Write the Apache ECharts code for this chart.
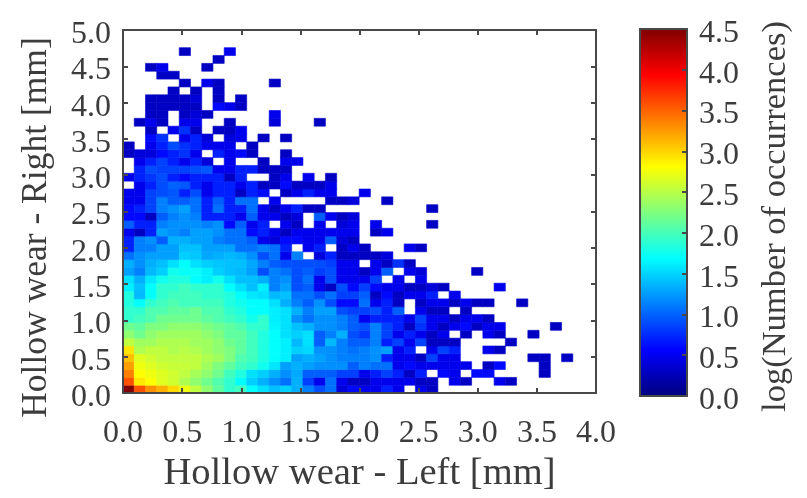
<!DOCTYPE html>
<html>
<head>
<meta charset="utf-8">
<style>html,body{margin:0;padding:0;background:#fff}#c{width:807px;height:498px}</style>
<script src="https://cdn.jsdelivr.net/npm/echarts@6/dist/echarts.min.js"></script>
</head>
<body>
<div id="c"></div>
<script>
const _ = null;
const xBinWidth = 0.0951;
const yBinWidth = 0.1081;
const colorMax = 4.5;
const jetColors = ['#00007f','#0000ff','#007fff','#00ffff','#7fff7f','#ffff00','#ff7f00','#ff0000','#7f0000'];
// log(Number of occurrences); first row is the lowest Right-wear bin, first column the lowest Left-wear bin
const logOccurrences = [
[4.5,3.58,3.3,3.16,2.98,2.74,2.53,2.32,2.11,1.9,1.97,1.69,1.55,1.41,1.48,1.34,1.13,.91,1.06,.4,.6,.48,.48,.7,.48,_,.48,.3],
[3.58,2.91,2.81,2.67,2.6,2.46,2.32,2.18,2.04,1.9,1.69,1.48,1.34,1.2,1.06,1.34,.84,.48,1.06,.48,.3,.3,.48,.48,.48,.48,.3,.3,_,.48,.3,_,_,.48,.3],
[3.37,2.81,2.74,2.67,2.6,2.53,2.42,2.32,2.18,1.97,1.83,1.55,1.48,1.34,1.2,1.31,.98,.98,.98,.84,.84,.48,.7,.85,.7,.3,.7,_,.6,.48,_,.6,.6,_,_,_,_,.3],
[3.23,2.74,2.67,2.6,2.56,2.56,2.53,2.39,2.25,2.11,1.97,1.9,1.76,1.58,1.27,1.34,1.27,1.2,1.2,1.2,.98,1.13,1.06,1.06,.48,.6,.48,.48,.48,.48,.48,_,.3,.6,_,_,_,.3],
[3.09,2.67,2.6,2.53,2.53,2.53,2.53,2.46,2.39,2.25,2.04,1.97,1.83,1.69,1.62,1.27,1.34,1.27,1.2,1.13,1.13,1.13,1.2,.7,.48,.48,.3,.85,.48,.48,_,_,_,_,_,_,.3,.3,_,.3],
[2.93,2.46,2.53,2.53,2.46,2.5,2.46,2.39,2.32,2.25,2.11,1.97,1.83,1.69,1.62,1.48,1.52,1.2,1.2,1.13,1.06,1.13,1.2,1.27,.48,.7,_,.48,.85,.7,_,_,.48,.3],
[2.53,2.39,2.39,2.46,2.46,2.46,2.39,2.39,2.32,2.18,2.11,1.97,1.83,1.69,1.62,1.38,1.55,.98,1.38,1.13,.98,.98,1.13,.7,.85,.48,.85,.3,.3,.3,_,_,_,_,.3],
[2.32,2.18,2.32,2.39,2.39,2.39,2.39,2.32,2.25,2.11,2.11,1.97,1.83,1.69,1.55,1.48,1.55,.98,1.13,1.34,.91,.8,1.13,.85,.48,.7,.48,.3,.48,_,.3,_,.48,.3,_,_,.3],
[2.18,2.11,2.25,2.25,2.32,2.32,2.32,2.25,2.18,2.11,2.04,1.9,1.9,1.65,1.55,1.41,1.34,1.2,1.2,1.13,.98,.91,1.13,.85,.7,.3,.78,.48,.3,.48,.6,.3,.48,.48,_,_,_,_,.3],
[1.9,1.97,2.04,2.18,2.18,2.18,2.18,2.11,2.04,1.97,1.9,1.76,1.9,1.62,1.55,1.2,1.06,1.2,1.2,1.13,.98,.5,.7,.7,.7,.48,.85,.48,.48,.3,.48,.48,.3],
[1.9,1.9,2.04,2.04,2.11,2.11,2.18,2.04,2.04,1.9,1.83,1.69,1.69,1.62,1.55,1.34,1.13,1.27,1.27,.91,.84,.85,.91,.7,.98,_,.48,.3,.3,_,.3],
[1.83,1.69,1.9,1.97,2.04,1.97,1.97,1.97,1.97,1.83,1.76,1.69,1.69,1.55,1.34,1.13,.98,1.2,.91,.6,.6,1.06,.48,.7,.3,_,.3,.48,.48,.3,.48,.3,.3,_,_,.3],
[1.83,1.38,1.69,1.9,1.97,1.97,1.97,1.9,1.9,1.83,1.69,1.58,1.55,1.38,1.41,1.06,1.06,.91,1.06,.84,.84,.98,.3,.6,.3,.48,.48,.7,_,.48],
[1.62,1.41,1.69,1.9,1.9,1.97,1.9,1.9,1.9,1.69,1.55,1.41,1.62,1.13,1.27,.91,.98,.48,.3,.91,.6,.84,.6,.48,.48,.3,.3,.4,.3,_,_,_,_,.48],
[1.55,1.34,1.58,1.76,1.83,1.83,1.69,1.62,1.76,1.55,1.41,1.41,1.34,1.13,1.2,.91,1.06,.48,.91,.48,.48,.48,.84,_,.48,_,.48],
[1.27,1.13,1.38,1.48,1.76,1.72,1.72,1.62,1.48,1.41,1.38,1.27,.91,1.13,1.06,.91,.98,.84,.91,.48,.48,.3,.48,.98,_,.48,.4,_,_,_,_,.3],
[1.34,1.2,1.34,1.41,1.55,1.69,1.55,1.48,1.44,1.41,1.41,1.3,1.13,.98,.91,.91,.91,.91,.84,.48,.48,_,.48,.3,.78,.3],
[1.06,1.2,1.27,1.27,1.27,1.48,1.44,1.3,1.34,1.38,1.34,1.2,.91,1.06,.48,1.13,_,.4,.7,.3,.3,.3,.3,.4],
[.7,1.13,1.13,1.27,1.27,1.41,1.41,1.27,1.27,1.27,1.06,1.06,1.13,1.06,.7,_,.48,.7,_,.3,.48,.3,_,_,_,.48,.3],
[.7,1.13,1.2,.98,1.34,1.34,1.27,1.27,1.13,1.06,1.06,.98,.48,.4,.6,.6,.48,.48,.98,.4,.3],
[.48,.3,.7,1.27,1.2,1.13,1.27,1.27,1.2,1.06,1.06,.6,.7,.48,.3,.48,.48,.48,.48,.48,.48,_,.3,.48],
[.98,.7,.7,1.13,1.2,1.2,1.2,1.13,1.2,.6,.98,.48,.7,_,.48,.3,_,.48,_,.4,.48,_,.48,_,_,_,_,.3],
[.6,.6,.3,.98,1.13,1.2,1.13,.7,.7,.7,.48,.98,.48,.48,.3,.4,_,.98,.48,.3,.4],
[.6,.7,.85,1.13,1.2,1.27,1.06,.7,1.06,.7,.7,1.06,.48,.3,.48,.7,.3,.3,_,_,_,_,_,_,_,_,_,.3],
[.48,.48,.85,1.13,.98,.98,1.06,.7,.98,.7,1.06,1.06,_,.48,_,_,_,_,.3,.3,.4,_,_,.3],
[.48,.48,.85,.9,.95,.7,.9,.48,.7,.7,.3,.7,.6,_,.3,.48,.7,.48,.48,_,_,.48],
[_,.48,.7,.9,1.0,.95,.7,.48,.7,.7,.48,.7,.3,.3,.6,.3,.3,.3,.48],
[.48,.7,.8,.9,.7,.6,.7,.7,.7,.3,.7,_,_,.3,.48,_,.48,_,.3],
[_,.7,.9,.85,.85,.85,.9,.95,.48,.48,.7,.7,.3,.3,.3],
[_,.48,.7,.85,.7,.48,.7,.4,_,.48,_,_,.3,_,.48,.48],
[.3,.4,.4,.6,.7,.78,.48,_,.7,.48,.6,.3,_,_,.3],
[.3,_,.48,.7,.9,.78,.7,.48,.48,.48,_,.3],
[_,_,.6,.78,_,.48,.7,.4,_,.4,.48,_,.3,_,.3],
[_,_,.3,_,.48,.78,.3,_,.3,.3,.48],
[_,.3,.48,.3,_,.48,.48,_,_,.3,_,_,_,.4,_,_,_,.3],
[_,_,.3,.3,_,.3,.4,.3,_,_,_,_,_,.48],
[_,_,.3,.3,.3,.3,.3,_,.6,.48,.3],
[_,_,.3,.3,.3,.3,.4,_,.3,_,.3],
[_,_,_,_,.3,_,.3,_,.3],
[_,_,_,_,_,.3,_,.48,.3,_,_,_,_,.3],
[_,_,_,.3,.3],
[_,_,.3,.48,_,_,_,.3],
[_,_,_,_,_,_,_,_,.3],
[_,_,_,_,_,.3,_,_,_,.48]
];

const cells = [];
logOccurrences.forEach((row, r) => row.forEach((v, c) => {
  if (v !== null) cells.push([c * xBinWidth, r * yBinWidth, v]);
}));

const ink = '#3c3c3c';
const serif = '"Liberation Serif","Times New Roman",serif';
const label = { color: ink, fontFamily: serif, fontSize: 32, formatter: v => Number(v).toFixed(1) };
const shiftedLabel = { color: ink, fontFamily: serif, fontSize: 32,
  formatter: v => '{a|' + Number(v).toFixed(1) + '}',
  rich: { a: { color: ink, fontFamily: serif, fontSize: 32, padding: [9, 0, 0, 0] } } };
const line = { show: true, onZero: false, lineStyle: { color: '#484848', width: 2 } };
const tick = { show: true, inside: true, length: 5, lineStyle: { color: '#484848', width: 2 } };

const option = {
  animation: false,
  backgroundColor: '#fff',
  grid: [
    { left: 123, top: 30, width: 473, height: 370 },
    { left: 640, top: 29, width: 47, height: 367 }
  ],
  xAxis: [
    { type: 'value', gridIndex: 0, min: 0, max: 4, interval: 0.5, z: 5, axisLine: line, axisTick: tick,
      axisLabel: Object.assign({ margin: 24, showMinLabel: true, showMaxLabel: true }, label), splitLine: { show: false },
      name: 'Hollow wear - Left [mm]', nameLocation: 'middle', nameGap: 60,
      nameTextStyle: { color: ink, fontFamily: serif, fontSize: 38.6 } },
    { type: 'value', gridIndex: 0, position: 'top', min: 0, max: 4, interval: 0.5, z: 5, axisLine: line, axisTick: tick,
      axisLabel: { show: false }, splitLine: { show: false } },
    { type: 'category', gridIndex: 1, data: ['bar'], z: 5, axisLine: line, axisTick: { show: false }, axisLabel: { show: false } },
    { type: 'category', gridIndex: 1, position: 'top', data: ['bar'], z: 5, axisLine: line, axisTick: { show: false }, axisLabel: { show: false } }
  ],
  yAxis: [
    { type: 'value', gridIndex: 0, min: 0, max: 5, interval: 0.5, z: 5, axisLine: line, axisTick: tick,
      axisLabel: Object.assign({ margin: 12, showMinLabel: true, showMaxLabel: true }, shiftedLabel), splitLine: { show: false },
      name: 'Hollow wear - Right [mm]', nameLocation: 'middle', nameGap: 68, nameRotate: 90,
      nameTextStyle: { color: ink, fontFamily: serif, fontSize: 35.5, padding: [0, 32, 0, 0] } },
    { type: 'value', gridIndex: 0, position: 'right', min: 0, max: 5, interval: 0.5, z: 5, axisLine: line, axisTick: tick,
      axisLabel: { show: false }, splitLine: { show: false } },
    { type: 'value', gridIndex: 1, position: 'left', min: 0, max: colorMax, interval: 0.5, z: 5, axisLine: line,
      axisTick: { show: false }, axisLabel: { show: false }, splitLine: { show: false } },
    { type: 'value', gridIndex: 1, position: 'right', min: 0, max: colorMax, interval: 0.5, z: 5, axisLine: line, axisTick: tick,
      axisLabel: Object.assign({ margin: 12, showMinLabel: true, showMaxLabel: true }, shiftedLabel), splitLine: { show: false },
      name: 'log(Number of occurrences)', nameLocation: 'middle', nameGap: 71, nameRotate: 90,
      nameTextStyle: { color: ink, fontFamily: serif, fontSize: 34.5, padding: [0, 8, 0, 0] } }
  ],
  visualMap: {
    show: false, type: 'continuous', seriesIndex: 0, dimension: 2, min: 0, max: colorMax,
    inRange: { color: jetColors }
  },
  series: [
    {
      type: 'custom', xAxisIndex: 0, yAxisIndex: 0, data: cells, clip: true,
      encode: { x: 0, y: 1 },
      renderItem(params, api) {
        const x = api.value(0), y = api.value(1);
        const p0 = api.coord([x, y + yBinWidth]);
        const p1 = api.coord([x + xBinWidth, y]);
        const color = api.visual('color');
        return { type: 'rect',
          shape: { x: p0[0], y: p0[1], width: p1[0] - p0[0], height: p1[1] - p0[1] },
          style: { fill: color, stroke: color, lineWidth: 0.6 } };
      }
    },
    {
      type: 'bar', xAxisIndex: 2, yAxisIndex: 2, data: [colorMax], barWidth: '100%', silent: true,
      itemStyle: { color: new echarts.graphic.LinearGradient(0, 1, 0, 0,
        jetColors.map((color, i) => ({ offset: i / (jetColors.length - 1), color }))) }
    }
  ]
};
echarts.init(document.getElementById('c'), null, { renderer: 'canvas' }).setOption(option);
</script>
</body>
</html>
